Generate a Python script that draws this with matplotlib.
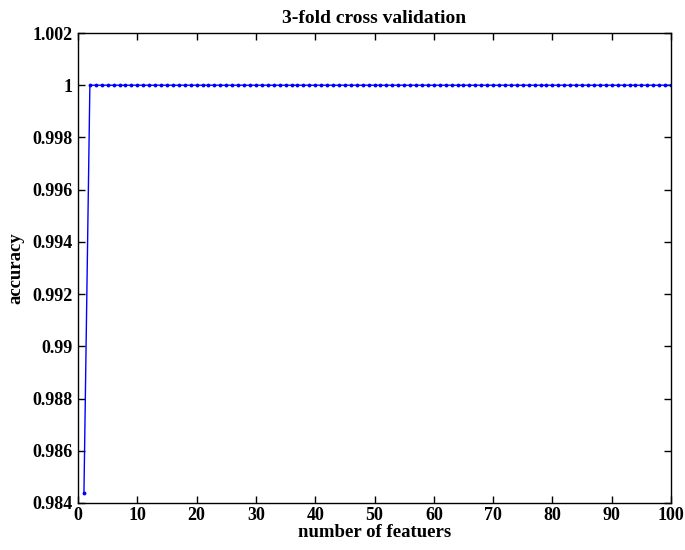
import numpy as np
import matplotlib
matplotlib.use('Agg')
import matplotlib.pyplot as plt
from matplotlib.ticker import FuncFormatter

plt.rcParams['font.family'] = 'Liberation Serif'
plt.rcParams['font.weight'] = 'bold'

# number of features vs accuracy
n_features = list(range(1, 101))
accuracy = [0.9844] + [1.0] * 99

x_ticks = [0, 10, 20, 30, 40, 50, 60, 70, 80, 90, 100]
y_ticks = [0.984, 0.986, 0.988, 0.99, 0.992, 0.994, 0.996, 0.998, 1.0, 1.002]

fig = plt.figure(figsize=(6.85, 5.5), dpi=100)
ax = fig.add_axes([0.1139, 0.0855, 0.8657, 0.8545])

ax.plot(n_features, accuracy, color='blue', lw=1.0, marker='.', markersize=3.5)

ax.set_xlim(0, 100)
ax.set_ylim(0.984, 1.002)
ax.set_xticks(x_ticks)
ax.set_yticks(y_ticks)
ax.yaxis.set_major_formatter(FuncFormatter(lambda v, p: '%g' % round(v, 3)))
ax.tick_params(direction='in', top=True, right=True, length=5, labelsize=13, width=1, pad=4)
ax.tick_params(axis='x', pad=3)
for lbl in ax.get_xticklabels() + ax.get_yticklabels():
    lbl.set_fontweight('bold')
for s in ax.spines.values():
    s.set_linewidth(1)

ax.set_title('3-fold cross validation', fontsize=14, fontweight='bold', pad=7)
ax.set_xlabel('number of featuers', fontsize=13.5, fontweight='bold', labelpad=0)
ax.set_ylabel('accuracy', fontsize=13.5, fontweight='bold', labelpad=6)

fig.savefig('out.png', dpi=100)
